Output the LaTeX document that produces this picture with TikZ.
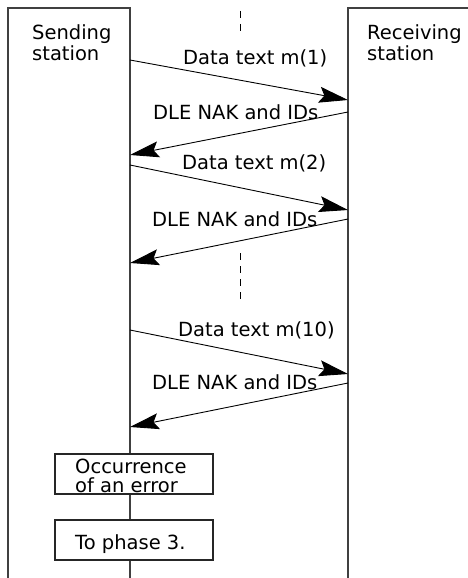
\documentclass[tikz,border=0pt]{standalone}
\usepackage{fontspec}
\setmainfont{DejaVu Sans}
\usetikzlibrary{arrows.meta}
\begin{document}
\begin{tikzpicture}[x=1pt,y=-1pt,
  lbl/.style={anchor=base west, inner sep=0pt, font=\fontsize{19.5}{20}\selectfont},
  life/.style={draw=black!75, line width=1.2pt},
  msg/.style={draw=black, line width=0.9pt, -{Stealth[length=29pt,width=16pt,inset=5pt]}},
  boxnode/.style={draw=black!85, line width=1.2pt, fill=white, minimum width=158pt, minimum height=40pt, inner sep=0pt},
  gap/.style={draw=black, line width=0.9pt, dash pattern=on 7pt off 6pt}]
\useasboundingbox (0,0) rectangle (468,578);
% lifelines / station columns
\coordinate (sbl) at (8,578);
\coordinate (stl) at (8,8);
\coordinate (str) at (130,8);
\coordinate (sbr) at (130,578);
\coordinate (rbl) at (348,578);
\coordinate (rtl) at (348,8);
\coordinate (rtr) at (468,8);
\draw[life] (sbl) -- (stl) -- (str) -- (sbr);
\draw[life] (rbl) -- (rtl) -- (rtr);
% station labels
\node[lbl] (send1) at (32,40) {Sending};
\node[lbl] (send2) at (32,60) {station};
\node[lbl] (recv1) at (367,40) {Receiving};
\node[lbl] (recv2) at (367,60) {station};
% dashed gaps
\coordinate (da) at (240,11);
\coordinate (db) at (240,31);
\coordinate (dc) at (240,253);
\coordinate (dd) at (240,299);
\draw[gap] (da) -- (db);
\draw[gap] (dc) -- (dd);
% message end points
\coordinate (s1) at (130,60);
\coordinate (r1) at (348,100);
\coordinate (r2) at (348,112);
\coordinate (s2) at (130,155);
\coordinate (s3) at (130,165);
\coordinate (r3) at (348,210);
\coordinate (r4) at (348,219);
\coordinate (s4) at (130,263);
\coordinate (s5) at (130,330);
\coordinate (r5) at (348,374);
\coordinate (r6) at (348,383);
\coordinate (s6) at (130,427);
\draw[msg] (s1) -- (r1);
\draw[msg] (r2) -- (s2);
\draw[msg] (s3) -- (r3);
\draw[msg] (r4) -- (s4);
\draw[msg] (s5) -- (r5);
\draw[msg] (r6) -- (s6);
% message labels
\node[lbl] (m1) at (183,64) {Data text m(1)};
\node[lbl] (n1) at (153,119) {DLE NAK and IDs};
\node[lbl] (m2) at (182,169) {Data text m(2)};
\node[lbl] (n2) at (152,226) {DLE NAK and IDs};
\node[lbl] (m10) at (178,336) {Data text m(10)};
\node[lbl] (n3) at (152,389) {DLE NAK and IDs};
% boxes
\node[boxnode] (err) at (134,474) {};
\node[lbl] (err1) at (75,473) {Occurrence};
\node[lbl] (err2) at (75,492) {of an error};
\node[boxnode] (ph3) at (134,540) {};
\node[lbl] (ph3t) at (75,549) {To phase 3.};
\end{tikzpicture}
\end{document}
